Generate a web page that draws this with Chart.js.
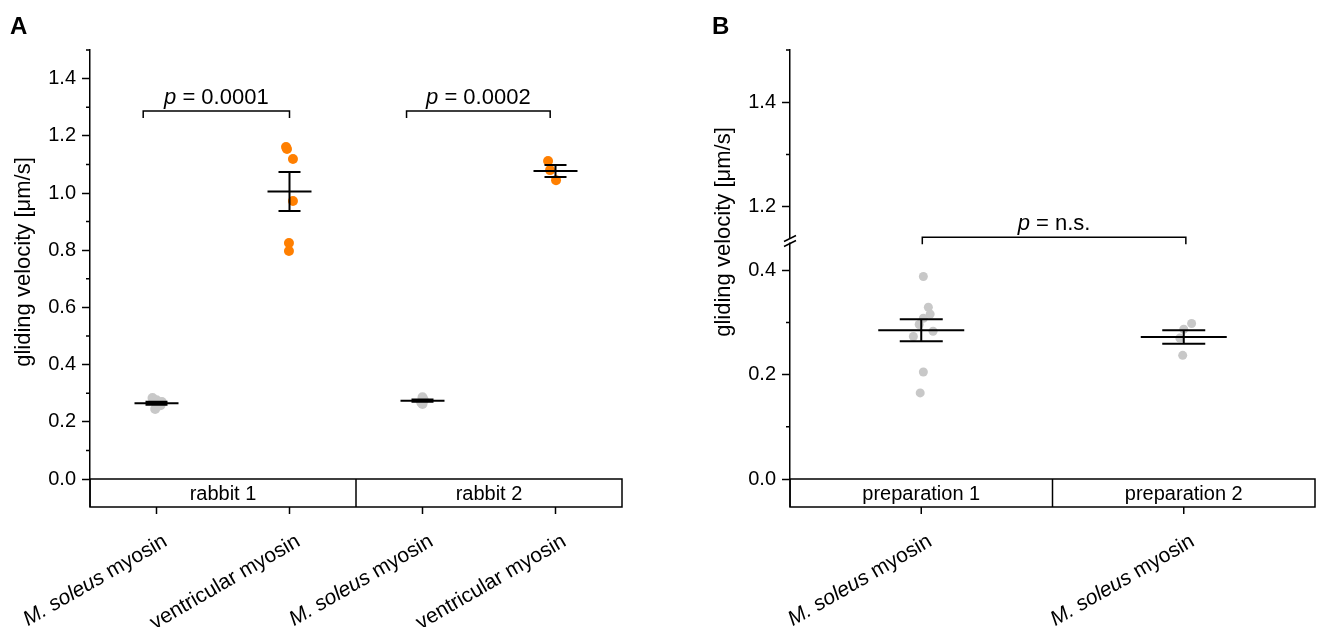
<!DOCTYPE html>
<html><head><meta charset="utf-8">
<script src="https://cdn.jsdelivr.net/npm/chart.js@4.4.0/dist/chart.umd.min.js"></script>
<style>
html,body{margin:0;padding:0;background:#fff;}
#wrap{position:relative;width:1320px;height:627px;overflow:hidden;background:#fff;}
canvas{position:absolute;top:0;}
</style></head><body>
<div id="wrap"><canvas id="cA" width="660" height="627" style="left:0px"></canvas><canvas id="cB" width="660" height="627" style="left:660px"></canvas></div>
<script>
// ---------------- Panel A data ----------------
const categoriesA = ['M. soleus myosin', 'ventricular myosin', 'M. soleus myosin', 'ventricular myosin'];
const groupsA = ['rabbit 1', 'rabbit 2'];
const rabbit1Soleus = [0.283, 0.275, 0.269, 0.258, 0.245];
const rabbit1SoleusJitter = [-0.03, 0.0, 0.04, 0.03, -0.01];
const rabbit1Ventricular = [1.161, 1.154, 1.119, 0.972, 0.825, 0.797];
const rabbit1VentricularJitter = [-0.026, -0.019, 0.026, 0.026, -0.004, -0.004];
const rabbit2Soleus = [0.286, 0.276, 0.268, 0.262];
const rabbit2SoleusJitter = [0.0, 0.01, -0.01, 0.0];
const rabbit2Ventricular = [1.112, 1.080, 1.045];
const rabbit2VentricularJitter = [-0.056, -0.041, 0.004];
const meanA = [0.265, 1.005, 0.274, 1.077];
const semA = [0.005, 0.068, 0.004, 0.021];
const pValuesA = ['0.0001', '0.0002'];
const bracketFromA = [0.40, 2.38];
const bracketToA = [1.50, 3.46];
const bracketYA = [1.287, 1.287];
const yTicksA = [0, 0.2, 0.4, 0.6, 0.8, 1.0, 1.2, 1.4];
const yMinorTicksA = [0.1, 0.3, 0.5, 0.7, 0.9, 1.1, 1.3, 1.5];

// ---------------- Panel B data ----------------
const categoriesB = ['M. soleus myosin', 'M. soleus myosin'];
const groupsB = ['preparation 1', 'preparation 2'];
const prep1Soleus = [0.388, 0.329, 0.316, 0.308, 0.296, 0.283, 0.273, 0.205, 0.165];
const prep1SoleusJitter = [0.008, 0.027, 0.034, 0.008, -0.008, 0.045, -0.030, 0.008, -0.004];
const prep2Soleus = [0.298, 0.287, 0.270, 0.237];
const prep2SoleusJitter = [0.030, 0.0, -0.015, -0.004];
const meanB = [0.285, 0.272];
const semB = [0.021, 0.013];
const pValuesB = ['n.s.'];
const bracketFromB = [0.504];
const bracketToB = [1.508];
const bracketYB = [0.463];
const yTicksB = [0, 0.2, 0.4, 1.2, 1.4];
const yMinorTicksB = [0.1, 0.3, 1.3, 1.5];
const yBreakB = [0.457, 1.135];

const yTitle = 'gliding velocity [μm/s]';

// ---------------- setup ----------------
const FONT = "'Liberation Sans', Arial, Helvetica, sans-serif";
Chart.defaults.font.family = FONT;
Chart.defaults.color = '#000';
const ORANGE = '#ff7f00';
const GREY = '#c8c8c8';

// linear scale with a break (values between the break bounds are compressed away)
class BrokenLinearScale extends Chart.LinearScale {
  _lin(v) { const mid = (yBreakB[0] + yBreakB[1]) / 2; return v <= mid ? v : v - (yBreakB[1] - yBreakB[0]); }
  _unlin(d) { return d <= yBreakB[0] ? d : d + (yBreakB[1] - yBreakB[0]); }
  getPixelForValue(value) {
    if (value === null || isNaN(value)) return NaN;
    const a = this._lin(this.min), b = this._lin(this.max);
    return this.getPixelForDecimal((this._lin(value) - a) / (b - a));
  }
  getValueForPixel(pixel) {
    const a = this._lin(this.min), b = this._lin(this.max);
    return this._unlin(a + this.getDecimalForPixel(pixel) * (b - a));
  }
}
BrokenLinearScale.id = 'brokenLinear';
BrokenLinearScale.defaults = Chart.LinearScale.defaults;
Chart.register(BrokenLinearScale);

function pts(vals, jit, catIndex) {
  return vals.map((v, i) => ({ x: catIndex + 0.5 + jit[i], y: v }));
}

function richParts(label) {
  if (label.startsWith('M. soleus')) return [{ t: 'M. soleus', i: true }, { t: label.slice(9) }];
  return [{ t: label }];
}
function drawRich(ctx, parts, x, y, align, size) {
  const fonts = parts.map(p => (p.i ? 'italic ' : '') + size + 'px ' + FONT);
  const widths = parts.map((p, k) => { ctx.font = fonts[k]; return ctx.measureText(p.t).width; });
  const total = widths.reduce((a, b) => a + b, 0);
  let sx = align === 'right' ? x - total : (align === 'center' ? x - total / 2 : x);
  ctx.textAlign = 'left';
  parts.forEach((p, k) => { ctx.font = fonts[k]; ctx.fillText(p.t, sx, y); sx += widths[k]; });
}

function panelPlugin(p) {
  return {
    id: 'panel' + p.letter,
    afterDatasetsDraw(chart) {
      const { ctx, scales: { x, y } } = chart;
      ctx.save();
      ctx.strokeStyle = '#000';
      ctx.lineWidth = 2;
      p.means.forEach((m, i) => {
        const cx = x.getPixelForValue(i + 0.5);
        const ym = y.getPixelForValue(m);
        const yt = y.getPixelForValue(m + p.sems[i]);
        const yb = y.getPixelForValue(m - p.sems[i]);
        ctx.beginPath();
        ctx.moveTo(cx - p.meanHalf, ym); ctx.lineTo(cx + p.meanHalf, ym);
        ctx.moveTo(cx, yt); ctx.lineTo(cx, yb);
        ctx.moveTo(cx - p.capHalf, yt); ctx.lineTo(cx + p.capHalf, yt);
        ctx.moveTo(cx - p.capHalf, yb); ctx.lineTo(cx + p.capHalf, yb);
        ctx.stroke();
      });
      ctx.restore();
    },
    afterDraw(chart) {
      const { ctx, chartArea, scales: { x, y } } = chart;
      const { left, right, bottom } = chartArea;
      const boxH = 28;
      ctx.save();
      ctx.strokeStyle = '#000';
      ctx.fillStyle = '#000';
      ctx.lineWidth = 1.5;
      // category box
      ctx.strokeRect(left, bottom, right - left, boxH);
      const perGroup = p.categories.length / p.groups.length;
      ctx.beginPath();
      for (let g = 1; g < p.groups.length; g++) {
        const gx = x.getPixelForValue(g * perGroup);
        ctx.moveTo(gx, bottom); ctx.lineTo(gx, bottom + boxH);
      }
      ctx.stroke();
      ctx.textBaseline = 'middle';
      p.groups.forEach((gl, g) => {
        const gx = x.getPixelForValue(g * perGroup + perGroup / 2);
        drawRich(ctx, [{ t: gl }], gx, bottom + boxH / 2 + 1, 'center', 20);
      });
      // category ticks + rotated labels
      ctx.beginPath();
      p.categories.forEach((c, i) => {
        const cx = x.getPixelForValue(i + 0.5);
        ctx.moveTo(cx, bottom + boxH); ctx.lineTo(cx, bottom + boxH + 7);
      });
      ctx.stroke();
      p.categories.forEach((c, i) => {
        const cx = x.getPixelForValue(i + 0.5);
        ctx.save();
        ctx.translate(cx + 9, bottom + boxH + 33);
        ctx.rotate(-Math.PI / 6);
        ctx.textBaseline = 'middle';
        drawRich(ctx, richParts(c), 0, 0, 'right', 21);
        ctx.restore();
      });
      // minor y ticks
      ctx.beginPath();
      p.minor.forEach(v => {
        const py = y.getPixelForValue(v);
        ctx.moveTo(left - 4, py); ctx.lineTo(left, py);
      });
      ctx.stroke();
      // extend y axis through the box
      ctx.beginPath(); ctx.moveTo(left, bottom); ctx.lineTo(left, bottom + boxH); ctx.stroke();
      // axis break marks
      if (p.brk) {
        const by = y.getPixelForValue(yBreakB[0]);
        ctx.fillStyle = '#fff';
        ctx.fillRect(left - 3, by - 2, 6, 4);
        ctx.beginPath();
        ctx.moveTo(left - 6, by - 2 + 3); ctx.lineTo(left + 6, by - 2 - 3);
        ctx.moveTo(left - 6, by + 3 + 3); ctx.lineTo(left + 6, by + 3 - 3);
        ctx.stroke();
        ctx.fillStyle = '#000';
      }
      // significance brackets
      ctx.lineWidth = 1.5;
      p.bFrom.forEach((f, k) => {
        const x1 = x.getPixelForValue(f), x2 = x.getPixelForValue(p.bTo[k]);
        const by = y.getPixelForValue(p.bY[k]);
        ctx.beginPath();
        ctx.moveTo(x1, by + 7); ctx.lineTo(x1, by); ctx.lineTo(x2, by); ctx.lineTo(x2, by + 7);
        ctx.stroke();
        ctx.textBaseline = 'alphabetic';
        drawRich(ctx, [{ t: 'p', i: true }, { t: ' = ' + p.pv[k] }], (x1 + x2) / 2, by - 7, 'center', 22);
      });
      // y title
      ctx.save();
      ctx.translate(left - 60, p.titleY);
      ctx.rotate(-Math.PI / 2);
      ctx.textBaseline = 'alphabetic';
      drawRich(ctx, [{ t: yTitle }], 0, 0, 'center', 22);
      ctx.restore();
      // panel letter
      ctx.textBaseline = 'alphabetic';
      ctx.font = 'bold 24px ' + FONT;
      ctx.textAlign = 'left';
      ctx.fillText(p.letter, p.letterX, 34);
      ctx.restore();
    }
  };
}

function yAxis(type, min, max, width, tickList) {
  return {
    type: type, min: min, max: max,
    afterFit(s) { s.width = width; },
    afterBuildTicks(s) { s.ticks = tickList.map(v => ({ value: v })); },
    ticks: { font: { size: 20 }, padding: 6, color: '#000', callback: v => Number(v).toFixed(1) },
    grid: { drawOnChartArea: false, drawTicks: true, tickLength: 8, tickColor: '#000', tickWidth: 1.5 },
    border: { display: true, color: '#000', width: 1.5 }
  };
}

const common = {
  responsive: false, animation: false, devicePixelRatio: 1,
  plugins: { legend: { display: false }, tooltip: { enabled: false } },
  elements: { point: { borderWidth: 0, hoverRadius: 5 } }
};

new Chart(document.getElementById('cA'), {
  type: 'scatter',
  data: {
    datasets: [
      { data: pts(rabbit1Soleus, rabbit1SoleusJitter, 0), backgroundColor: GREY, pointRadius: 5 },
      { data: pts(rabbit1Ventricular, rabbit1VentricularJitter, 1), backgroundColor: ORANGE, pointRadius: 5 },
      { data: pts(rabbit2Soleus, rabbit2SoleusJitter, 2), backgroundColor: GREY, pointRadius: 5 },
      { data: pts(rabbit2Ventricular, rabbit2VentricularJitter, 3), backgroundColor: ORANGE, pointRadius: 5 }
    ]
  },
  options: Object.assign({}, common, {
    layout: { padding: { left: 0, top: 50, right: 38, bottom: 148 } },
    scales: {
      x: { type: 'linear', min: 0, max: 4, display: false },
      y: yAxis('linear', 0, 1.5, 90, yTicksA)
    }
  }),
  plugins: [panelPlugin({
    letter: 'A', letterX: 10, groups: groupsA, categories: categoriesA, means: meanA, sems: semA,
    meanHalf: 22, capHalf: 11, minor: yMinorTicksA, titleY: 262, brk: false,
    bFrom: bracketFromA, bTo: bracketToA, bY: bracketYA, pv: pValuesA
  })]
});

new Chart(document.getElementById('cB'), {
  type: 'scatter',
  data: {
    datasets: [
      { data: pts(prep1Soleus, prep1SoleusJitter, 0), backgroundColor: GREY, pointRadius: 4.5 },
      { data: pts(prep2Soleus, prep2SoleusJitter, 1), backgroundColor: GREY, pointRadius: 4.5 }
    ]
  },
  options: Object.assign({}, common, {
    layout: { padding: { left: 0, top: 50, right: 2, bottom: 148 } },
    scales: {
      x: { type: 'linear', min: 0, max: 2, display: false },
      y: yAxis('brokenLinear', 0, 1.5, 130, yTicksB)
    }
  }),
  plugins: [panelPlugin({
    letter: 'B', letterX: 52, groups: groupsB, categories: categoriesB, means: meanB, sems: semB,
    meanHalf: 43, capHalf: 21.5, minor: yMinorTicksB, titleY: 232, brk: true,
    bFrom: bracketFromB, bTo: bracketToB, bY: bracketYB, pv: pValuesB
  })]
});
</script></body></html>
